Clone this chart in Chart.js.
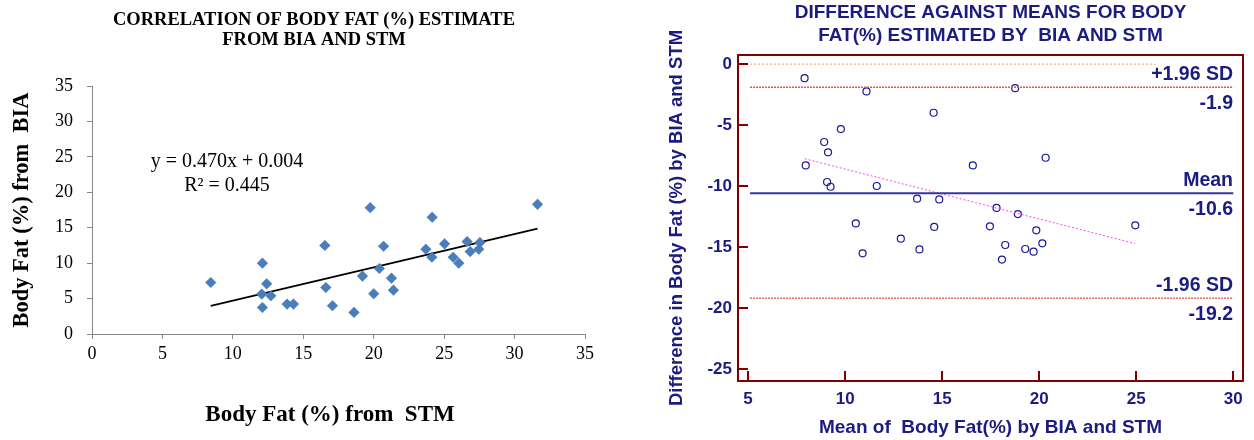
<!DOCTYPE html>
<html><head><meta charset="utf-8">
<script src="https://cdn.jsdelivr.net/npm/chart.js@4.4.0/dist/chart.umd.min.js"></script>
<style>
html,body{margin:0;padding:0;background:#fff;}
#wrap{position:relative;width:1254px;height:440px;overflow:hidden;background:#fff;}
#cL{position:absolute;left:0;top:0;}
#cR{position:absolute;left:640px;top:0;}
</style></head><body>
<div id="wrap"><canvas id="cL" width="630" height="440"></canvas><canvas id="cR" width="614" height="440"></canvas></div>
<script>
// ---- Left chart data: Body fat (%) from STM (x) vs from BIA (y)
const stmValues = [8.43,12.1,12.4,12.05,12.7,12.1,13.85,14.3,16.53,16.6,17.07,18.6,19.2,19.75,20.0,20.4,20.7,21.26,21.4,23.7,24.15,24.13,25.03,25.64,26.04,26.63,26.85,27.46,27.54,31.63];
const biaValues = [7.27,10.0,7.08,5.63,5.39,3.75,4.22,4.22,12.5,6.57,3.99,3.05,8.17,17.83,5.68,9.24,12.39,7.88,6.19,11.97,16.48,10.84,12.72,10.84,10.0,13.04,11.63,11.97,12.9,18.3];
const trendSlope = 0.470;
const trendIntercept = 0.004;
const leftTitleLines = ['CORRELATION OF BODY FAT (%) ESTIMATE','FROM BIA AND STM'];
const equationLines = ['y = 0.470x + 0.004','R\u00B2 = 0.445'];
const leftXTitle = 'Body Fat (%) from  STM';

// ---- Right chart data: Bland-Altman (mean vs difference)
const meanValues = [7.91,11.1,18.76,14.56,9.78,8.92,9.12,7.97,16.58,20.33,9.07,9.25,11.63,13.71,14.85,17.8,18.9,10.55,14.59,17.46,19.85,24.95,12.87,20.16,18.25,13.83,19.28,19.71,10.9,18.08];
const diffValues = [-1.15,-2.24,-1.97,-3.99,-5.33,-6.39,-7.24,-8.31,-8.31,-7.68,-9.67,-10.06,-10.0,-11.04,-11.1,-11.8,-12.3,-13.07,-13.36,-13.31,-13.64,-13.23,-14.32,-14.7,-14.84,-15.2,-15.17,-15.39,-15.52,-16.04];
const limitValues = [-1.9, -10.6, -19.2];
const limitNames = ['+1.96 SD', 'Mean', '-1.96 SD'];
const limitTexts = ['-1.9', '-10.6', '-19.2'];
const zeroLineX = [5.1, 26];
const limitLineX = [5.1, 30];
const regressionX = [7.92, 24.94];
const regressionY = [-7.76, -14.73];
const rightTitleLines = ['DIFFERENCE AGAINST MEANS FOR BODY','FAT(%) ESTIMATED BY  BIA AND STM'];

const NAVY = '#1c1c80';
const SERIF = "'Liberation Serif','Times New Roman',serif";
const SANS = "'Liberation Sans',Arial,sans-serif";

// ---------- Left chart ----------
const xMin = Math.min(...stmValues), xMax = Math.max(...stmValues);
const leftText = {
  id: 'leftText',
  afterDraw(chart) {
    const ctx = chart.ctx;
    ctx.save();
    ctx.fillStyle = '#000';
    ctx.textAlign = 'center';
    ctx.textBaseline = 'alphabetic';
    ctx.font = 'bold 18.5px ' + SERIF;
    ctx.fillText(leftTitleLines[0], 314, 25);
    ctx.fillText(leftTitleLines[1], 314, 45);
    ctx.font = '20px ' + SERIF;
    ctx.fillText(equationLines[0], 227, 167);
    ctx.fillText(equationLines[1], 227, 191);
    ctx.font = 'bold 23px ' + SERIF;
    ctx.textBaseline = 'middle';
    ctx.fillText(leftXTitle, 330, 415);
    ctx.restore();
  }
};

new Chart(document.getElementById('cL'), {
  type: 'scatter',
  data: {
    datasets: [
      {
        data: stmValues.map((v, i) => ({x: v, y: biaValues[i]})),
        pointStyle: 'rectRot', pointRadius: 5.3, pointHoverRadius: 5.3,
        backgroundColor: '#4A7EBB', borderColor: '#4476B3', borderWidth: 0.5
      },
      {
        type: 'line',
        data: [xMin, xMax].map(x => ({x: x, y: trendSlope * x + trendIntercept})),
        borderColor: '#000', borderWidth: 1.6, pointRadius: 0, fill: false
      }
    ]
  },
  options: {
    responsive: false, animation: false,
    layout: {padding: {left: 0, right: 45, top: 86, bottom: 0}},
    plugins: {legend: {display: false}, tooltip: {enabled: false}},
    scales: {
      x: {
        type: 'linear', min: 0, max: 35,
        ticks: {stepSize: 5, font: {family: SERIF, size: 18}, color: '#000', padding: 4},
        grid: {display: true, drawOnChartArea: false, drawTicks: true, tickLength: 5, color: '#868686', lineWidth: 1},
        border: {display: true, color: '#868686', width: 1},
        title: {display: false},
        afterFit(s) { s.height = 106; }
      },
      y: {
        type: 'linear', min: 0, max: 35,
        ticks: {stepSize: 5, font: {family: SERIF, size: 18}, color: '#000', padding: 14},
        grid: {display: true, drawOnChartArea: false, drawTicks: true, tickLength: 5, color: '#868686', lineWidth: 1},
        border: {display: true, color: '#868686', width: 1},
        title: {display: true, text: 'Body Fat (%) from  BIA', color: '#000',
          font: {family: SERIF, size: 22.5, weight: 'bold'}, padding: {top: 9, bottom: 0}},
        afterFit(s) { s.width = 92; }
      }
    }
  },
  plugins: [leftText]
});

// ---------- Right chart ----------
const rightDecor = {
  id: 'rightDecor',
  afterDatasetsDraw(chart) {
    const {ctx, chartArea: a, scales: {x, y}} = chart;
    ctx.save();
    ctx.strokeStyle = '#800000';
    ctx.lineWidth = 2;
    ctx.strokeRect(a.left, a.top, a.right - a.left, a.bottom - a.top);
    ctx.beginPath();
    x.ticks.forEach(t => { const px = Math.round(x.getPixelForValue(t.value)); ctx.moveTo(px, a.bottom); ctx.lineTo(px, a.bottom - 10); });
    y.ticks.forEach(t => { const py = Math.round(y.getPixelForValue(t.value)); ctx.moveTo(a.left, py); ctx.lineTo(a.left + 10, py); });
    ctx.stroke();
    ctx.fillStyle = NAVY;
    ctx.font = 'bold 19.5px ' + SANS;
    ctx.textAlign = 'right';
    const rx = a.right - 10;
    limitValues.forEach((v, i) => {
      const py = y.getPixelForValue(v);
      ctx.textBaseline = 'alphabetic';
      ctx.fillText(limitNames[i], rx, py - 7);
      ctx.textBaseline = 'top';
      ctx.fillText(limitTexts[i], rx, py + 7);
    });
    ctx.font = 'bold 19px ' + SANS;
    ctx.textAlign = 'center';
    ctx.textBaseline = 'middle';
    const cx = (a.left + a.right) / 2;
    ctx.fillText(rightTitleLines[0], cx, 13);
    ctx.fillText(rightTitleLines[1], cx, 36);
    ctx.restore();
  }
};

const hLine = (xs, v) => xs.map(xv => ({x: xv, y: v}));

new Chart(document.getElementById('cR'), {
  type: 'scatter',
  data: {
    datasets: [
      {type: 'line', data: hLine(zeroLineX, 0), borderColor: '#F5A05A', borderWidth: 1, borderDash: [2, 2], pointRadius: 0},
      {type: 'line', data: hLine(limitLineX, limitValues[0]), borderColor: '#E85050', borderWidth: 1.5, borderDash: [2, 1], pointRadius: 0},
      {type: 'line', data: hLine(limitLineX, limitValues[1]), borderColor: '#3636A0', borderWidth: 2, pointRadius: 0},
      {type: 'line', data: hLine(limitLineX, limitValues[2]), borderColor: '#D02020', borderWidth: 1, borderDash: [2, 1], pointRadius: 0},
      {type: 'line', data: regressionX.map((xv, i) => ({x: xv, y: regressionY[i]})), borderColor: '#FF40FF', borderWidth: 1, borderDash: [2, 2], pointRadius: 0},
      {
        data: meanValues.map((v, i) => ({x: v, y: diffValues[i]})),
        pointStyle: 'circle', pointRadius: 3.5, pointHoverRadius: 3.5,
        borderColor: '#1a1a9a', backgroundColor: 'rgba(255,255,255,0)', borderWidth: 1.2
      }
    ]
  },
  options: {
    responsive: false, animation: false,
    layout: {padding: {left: 0, right: 11, top: 55, bottom: 0}},
    plugins: {legend: {display: false}, tooltip: {enabled: false}},
    scales: {
      x: {
        type: 'linear', min: 4.48, max: 30.5,
        ticks: {stepSize: 5, includeBounds: false, font: {family: SANS, size: 17, weight: 'bold'}, color: NAVY, padding: 8},
        grid: {display: false, drawTicks: false}, border: {display: false},
        title: {display: true, text: 'Mean of  Body Fat(%) by BIA and STM', color: NAVY,
          font: {family: SANS, size: 19, weight: 'bold'}, padding: {top: 0, bottom: 1}},
        afterFit(s) { s.height = 59; }
      },
      y: {
        type: 'linear', min: -26, max: 0.75,
        ticks: {stepSize: 5, includeBounds: false, font: {family: SANS, size: 17, weight: 'bold'}, color: NAVY, padding: 6},
        grid: {display: false, drawTicks: false}, border: {display: false},
        title: {display: true, text: 'Difference in Body Fat (%) by BIA and STM', color: NAVY,
          font: {family: SANS, size: 18.5, weight: 'bold'}, padding: {top: 26, bottom: 0}},
        afterFit(s) { s.width = 98; }
      }
    }
  },
  plugins: [rightDecor]
});
</script>
</body></html>
